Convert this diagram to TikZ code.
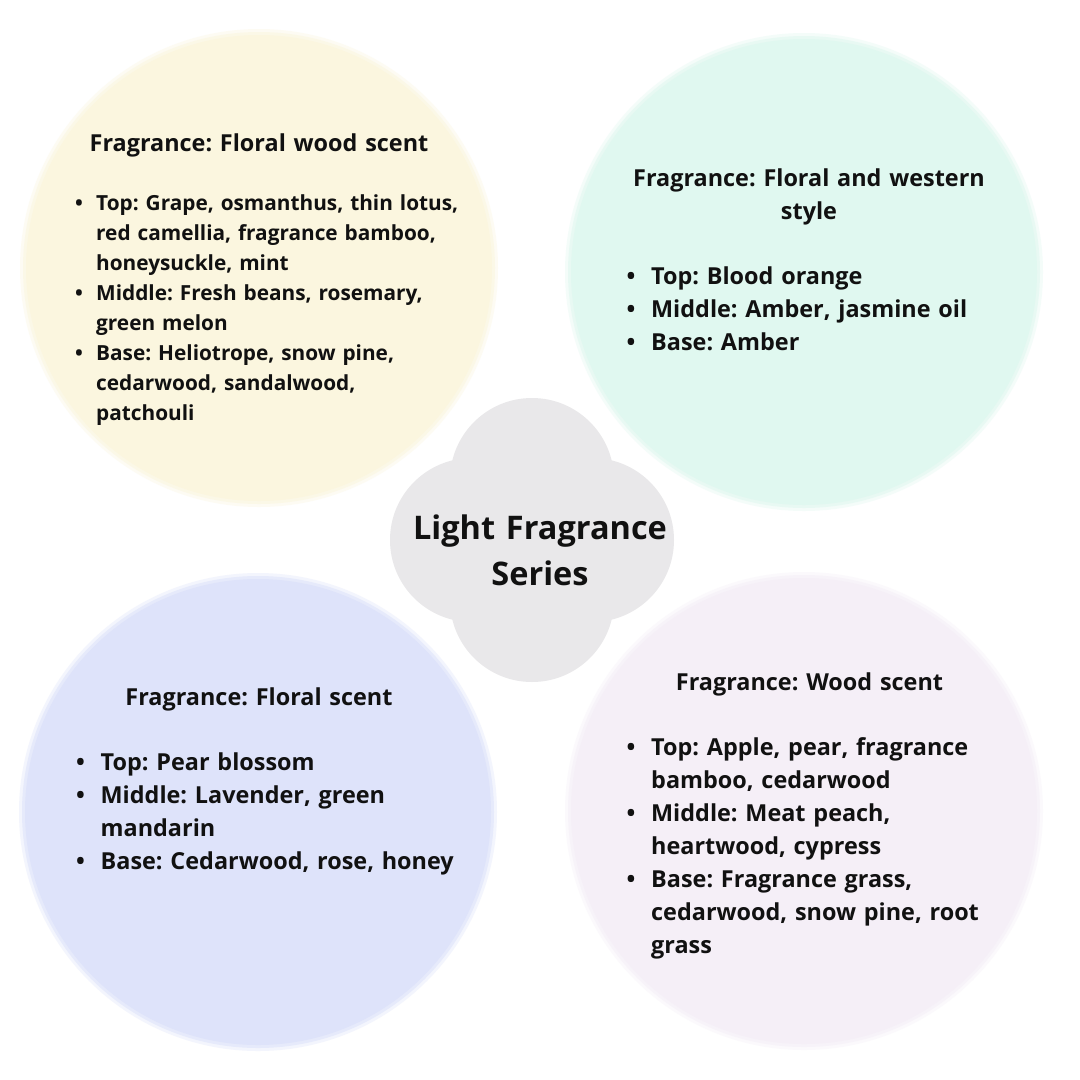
\documentclass[tikz,border=0pt]{standalone}
\usepackage{fontspec}
\setmainfont{Open Sans}
\setlength\parindent{0pt}
\frenchspacing
\definecolor{cTL}{HTML}{FBF6DF}
\definecolor{cTR}{HTML}{E0F8F0}
\definecolor{cBL}{HTML}{DEE3FA}
\definecolor{cBR}{HTML}{F5EFF7}
\definecolor{cMid}{HTML}{E9E8EA}
\definecolor{ink}{HTML}{111111}
\newcommand\softdisc[3]{%
  \fill[#3, opacity=0.35] (#1) circle (#2pt+6pt);
  \fill[#3, opacity=0.6] (#1) circle (#2pt+3pt);
  \fill[#3] (#1) circle (#2pt);}
\newcommand\itm{\strut\llap{\textbullet\hspace{15.7pt}}}
\newcommand\itms{\strut\llap{\textbullet\hspace{13.2pt}}}
\begin{document}
\begin{tikzpicture}[x=1pt,y=-1pt,
  head/.style={inner sep=0pt, anchor=north, text width=440pt, align=center,
    font=\bfseries\fontsize{23.4}{33}\selectfont, text=ink},
  list/.style={inner sep=0pt, anchor=north west, text width=420pt, align=left,
    font=\bfseries\fontsize{23.4}{33}\selectfont, text=ink},
  listsm/.style={list, font=\bfseries\fontsize{20.8}{29.9}\selectfont},
  title/.style={inner sep=0pt, anchor=north, text width=400pt, align=center,
    font=\bfseries\fontsize{32.5}{46}\selectfont, text=ink}]
\useasboundingbox (0,0) rectangle (1080,1080);
\fill[white] (0,0) rectangle (1080,1080);
% circles
\coordinate (ctl) at (259,268);
\coordinate (ctr) at (804,272);
\coordinate (cbl) at (258,812);
\coordinate (cbr) at (804,811);
\softdisc{ctl}{233}{cTL}
\softdisc{ctr}{233}{cTR}
\softdisc{cbl}{233}{cBL}
\softdisc{cbr}{233}{cBR}
% center quatrefoil
\coordinate (cm) at (532,540);
\fill[cMid] (532,480) circle (82pt) (532,600) circle (82pt)
  (472,540) circle (82pt) (592,540) circle (82pt);
\node[title] (center) at (540,539-32.2) {\strut Light Fragrance\\Series};
% top left
\node[head] (tlh) at (259,151.5-23.1) {\strut Fragrance: Floral wood scent};
\node[listsm] (tll) at (96,210.7-20.93) {%
\itms Top: Grape, osmanthus, thin lotus,\\red camellia, fragrance bamboo,\\honeysuckle, mint\par
\itms Middle: Fresh beans, rosemary,\\green melon\par
\itms Base: Heliotrope, snow pine,\\cedarwood, sandalwood,\\patchouli\par};
% top right
\node[head] (trh) at (809,186-23.1) {\strut Fragrance: Floral and western\\style};
\node[list] (trl) at (651,284-23.1) {%
\itm Top: Blood orange\par
\itm Middle: Amber, jasmine oil\par
\itm Base: Amber\par};
% bottom left
\node[head] (blh) at (259,705-23.1) {\strut Fragrance: Floral scent};
\node[list] (bll) at (100.5,770.7-23.1) {%
\itm Top: Pear blossom\par
\itm Middle: Lavender, green\\mandarin\par
\itm Base: Cedarwood, rose, honey\par};
% bottom right
\node[head] (brh) at (809.5,689.8-23.1) {\strut Fragrance: Wood scent};
\node[list] (brl) at (651,755-23.1) {%
\itm Top: Apple, pear, fragrance\\bamboo, cedarwood\par
\itm Middle: Meat peach,\\heartwood, cypress\par
\itm Base: Fragrance grass,\\cedarwood, snow pine, root\\grass\par};
\end{tikzpicture}
\end{document}
